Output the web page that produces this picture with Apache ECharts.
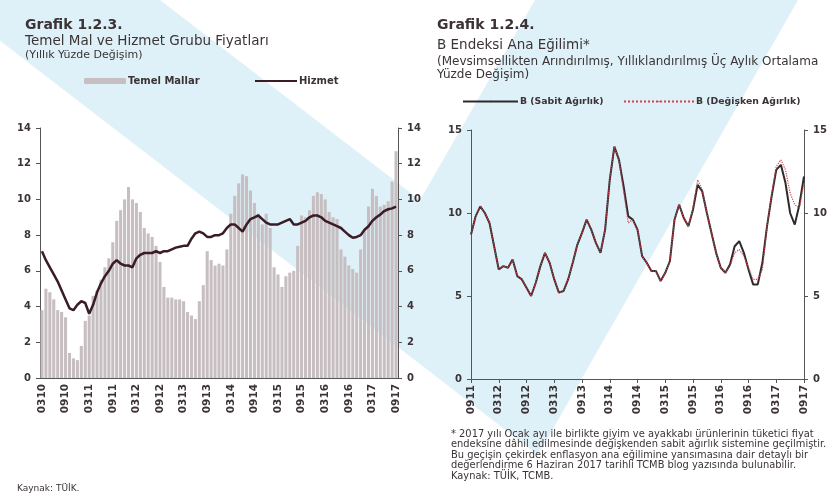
<!DOCTYPE html>
<html>
<head>
<meta charset="utf-8">
<script src="https://cdn.jsdelivr.net/npm/echarts@6/dist/echarts.min.js"></script>
<style>
  html, body { margin: 0; padding: 0; background: #fff; }
  #chart { width: 839px; height: 504px; }
</style>
</head>
<body>
<div id="chart"></div>
<script>
// ay etiketleri AAYY biciminde (0310 = Mart 2010)
function monthLabels(month, year, count) {
    var out = [];
    for (var k = 0; k < count; k++) {
        var m = ((month - 1 + k) % 12) + 1;
        var y = year + Math.floor((month - 1 + k) / 12);
        out.push((m < 10 ? '0' : '') + m + String(y % 100));
    }
    return out;
}

// Grafik 1.2.3 - 0310 ... 0917
var months123 = monthLabels(3, 2010, 91);
var temelMallar = [
    3.8, 5.0, 4.8, 4.4, 3.8, 3.7, 3.4, 1.4, 1.1, 1.0,
    1.8, 3.2, 3.5, 4.6, 4.9, 5.5, 6.2, 6.7, 7.6, 8.8,
    9.4, 10.0, 10.7, 10.0, 9.8, 9.3, 8.4, 8.1, 7.9, 7.4,
    6.5, 5.1, 4.5, 4.5, 4.4, 4.4, 4.3, 3.7, 3.5, 3.3,
    4.3, 5.2, 7.1, 6.6, 6.3, 6.4, 6.3, 7.2, 9.2, 10.2,
    10.9, 11.4, 11.3, 10.5, 9.8, 9.2, 8.6, 9.2, 8.4, 6.2,
    5.8, 5.1, 5.7, 5.9, 6.0, 7.4, 9.1, 9.0, 9.4, 10.2,
    10.4, 10.3, 10.0, 9.3, 9.0, 8.9, 7.2, 6.8, 6.3, 6.1,
    5.9, 7.2, 8.3, 9.6, 10.6, 10.2, 9.6, 9.7, 9.9, 11.0,
    12.7
];
var hizmet = [
    7.1, 6.6, 6.2, 5.8, 5.4, 4.9, 4.4, 3.9, 3.8, 4.1,
    4.3, 4.2, 3.6, 4.1, 4.8, 5.3, 5.7, 6.0, 6.4, 6.6,
    6.4, 6.3, 6.3, 6.2, 6.7, 6.9, 7.0, 7.0, 7.0, 7.1,
    7.0, 7.1, 7.1, 7.2, 7.3, 7.35, 7.4, 7.4, 7.8, 8.1,
    8.2, 8.1, 7.9, 7.9, 8.0, 8.0, 8.1, 8.4, 8.6, 8.6,
    8.4, 8.2, 8.6, 8.9, 9.0, 9.1, 8.9, 8.7, 8.6, 8.6,
    8.6, 8.7, 8.8, 8.9, 8.6, 8.6, 8.7, 8.8, 9.0, 9.1,
    9.1, 9.0, 8.8, 8.7, 8.6, 8.5, 8.4, 8.2, 8.0, 7.85,
    7.9, 8.0, 8.3, 8.5, 8.8, 9.0, 9.15, 9.35, 9.45, 9.5,
    9.6
];

// Grafik 1.2.4 - 0911 ... 0917
var months124 = monthLabels(9, 2011, 73);
var bSabit = [
    8.7, 9.8, 10.4, 10.0, 9.4, 8.0, 6.6, 6.8, 6.7, 7.2,
    6.2, 6.0, 5.5, 5.0, 5.8, 6.8, 7.6, 7.0, 6.0, 5.2,
    5.3, 6.0, 7.0, 8.1, 8.8, 9.6, 9.0, 8.2, 7.6, 9.0,
    12.0, 14.0, 13.2, 11.6, 9.8, 9.6, 9.0, 7.4, 7.0, 6.5,
    6.5, 5.9, 6.4, 7.1, 9.6, 10.5, 9.7, 9.2, 10.2, 11.7,
    11.3, 10.0, 8.8, 7.6, 6.7, 6.4, 6.9, 8.0, 8.3, 7.6,
    6.6, 5.7, 5.7, 7.0, 9.2, 11.0, 12.6, 12.9, 11.8, 10.0,
    9.3, 10.5, 12.2
];
var bDegisken = [
    8.7, 9.8, 10.4, 10.0, 9.4, 8.0, 6.6, 6.8, 6.7, 7.2,
    6.2, 6.0, 5.5, 5.0, 5.8, 6.8, 7.6, 7.0, 6.0, 5.2,
    5.3, 6.0, 7.0, 8.1, 8.8, 9.6, 9.0, 8.2, 7.6, 9.0,
    12.0, 14.0, 13.2, 11.3, 9.4, 9.6, 9.0, 7.4, 7.0, 6.5,
    6.5, 5.9, 6.4, 7.1, 9.6, 10.5, 9.7, 9.2, 10.3, 12.0,
    11.4, 10.0, 8.8, 7.6, 6.7, 6.4, 6.8, 7.6, 7.8, 7.4,
    6.7, 6.0, 6.0, 6.6, 9.2, 11.1, 12.8, 13.2, 12.6, 11.2,
    10.5, 10.3, 11.8
];

var textColor = '#3b3335';
var axisColor = '#555';

function yAxis(grid, pos, max, step) {
    return {
        type: 'value', gridIndex: grid, position: pos,
        min: 0, max: max, interval: step,
        axisLine: { show: true, lineStyle: { color: axisColor } },
        axisTick: { show: true, length: 4, lineStyle: { color: axisColor } },
        axisLabel: { color: textColor, fontSize: 10, fontWeight: 'bold', margin: 9 },
        splitLine: { show: false }
    };
}

function xAxis(grid, data, gap) {
    return {
        type: 'category', gridIndex: grid, data: data, boundaryGap: gap,
        axisLine: { lineStyle: { color: axisColor } },
        axisTick: { interval: 5, length: 4, lineStyle: { color: axisColor } },
        axisLabel: { interval: 5, rotate: 90, color: textColor, fontSize: 10.5, fontWeight: 'bold', margin: 6 }
    };
}

function line(text, left, top, size, bold) {
    return {
        text: text, left: left, top: top,
        textStyle: { fontSize: size, fontWeight: bold ? 'bold' : 'normal', color: textColor }
    };
}

// her seri icin ayri gosterge, boylece cizgi simgesi ince kalir
function legendItem(name, left, top, w, h, size) {
    return {
        data: [name], left: left, top: top, itemWidth: w, itemHeight: h,
        textStyle: { fontSize: size, fontWeight: 'bold', color: textColor, padding: [0, 0, 0, -3] }
    };
}

var chart = echarts.init(document.getElementById('chart'));
chart.setOption({
    animation: false,
    backgroundColor: '#fff',
    textStyle: { fontFamily: 'DejaVu Sans' },
    // taranmis sayfadaki acik mavi V filigrani
    graphic: [
        {
            type: 'polygon', z: -10,
            shape: { points: [[-53, 0], [160, 0], [420, 200], [535, 0], [798, 0], [538, 455]] },
            style: { fill: 'rgba(110,190,225,0.22)' }
        }
    ],
    title: [
        line('Grafik 1.2.3.', 20, 13, 14, true),
        line('Temel Mal ve Hizmet Grubu Fiyatları', 20, 29, 13.5, false),
        line('(Yıllık Yüzde Değişim)', 20, 45, 11, false),
        line('Kaynak: TÜİK.', 12, 479, 9, false),
        line('Grafik 1.2.4.', 432, 13, 14, true),
        line('B Endeksi Ana Eğilimi*', 432, 33, 13.5, false),
        line('(Mevsimsellikten Arındırılmış, Yıllıklandırılmış Üç Aylık Ortalama', 432, 51, 12, false),
        line('Yüzde Değişim)', 432, 64, 12, false),
        line('* 2017 yılı Ocak ayı ile birlikte giyim ve ayakkabı ürünlerinin tüketici fiyat', 446, 424, 9.9, false),
        line('endeksine dâhil edilmesinde değişkenden sabit ağırlık sistemine geçilmiştir.', 446, 434.5, 9.9, false),
        line('Bu geçişin çekirdek enflasyon ana eğilimine yansımasına dair detaylı bir', 446, 445, 9.9, false),
        line('değerlendirme 6 Haziran 2017 tarihli TCMB blog yazısında bulunabilir.', 446, 455.5, 9.9, false),
        line('Kaynak: TÜİK, TCMB.', 446, 466, 9.9, false)
    ],
    legend: [
        legendItem('Temel Mallar', 79, 71, 42, 6, 10),
        legendItem('Hizmet', 249, 71, 42, 2, 10),
        legendItem('B (Sabit Ağırlık)', 457, 92, 55, 2, 9.3),
        legendItem('B (Değişken Ağırlık)', 618, 92, 70, 2, 9.3)
    ],
    grid: [
        { left: 40, top: 128, width: 358, height: 250 },
        { left: 471, top: 130, width: 333, height: 249 }
    ],
    xAxis: [xAxis(0, months123, true), xAxis(1, months124, false)],
    yAxis: [
        yAxis(0, 'left', 14, 2), yAxis(0, 'right', 14, 2),
        yAxis(1, 'left', 15, 5), yAxis(1, 'right', 15, 5)
    ],
    series: [
        {
            name: 'Temel Mallar', type: 'bar', xAxisIndex: 0, yAxisIndex: 0,
            data: temelMallar, barCategoryGap: '22%',
            itemStyle: { color: '#c6bec0' }
        },
        {
            name: 'Hizmet', type: 'line', xAxisIndex: 0, yAxisIndex: 1,
            data: hizmet, symbol: 'none', z: 3,
            lineStyle: { color: '#3a1c26', width: 2.5 }, itemStyle: { color: '#3a1c26' }
        },
        {
            name: 'B (Sabit Ağırlık)', type: 'line', xAxisIndex: 1, yAxisIndex: 2,
            data: bSabit, symbol: 'none', z: 3,
            lineStyle: { color: '#2e2a2c', width: 2 }, itemStyle: { color: '#2e2a2c' }
        },
        {
            name: 'B (Değişken Ağırlık)', type: 'line', xAxisIndex: 1, yAxisIndex: 2,
            data: bDegisken, symbol: 'none', z: 4,
            lineStyle: { color: '#d8404f', width: 1.2, type: 'dotted' }, itemStyle: { color: '#d8404f' }
        }
    ]
});
</script>
</body>
</html>
